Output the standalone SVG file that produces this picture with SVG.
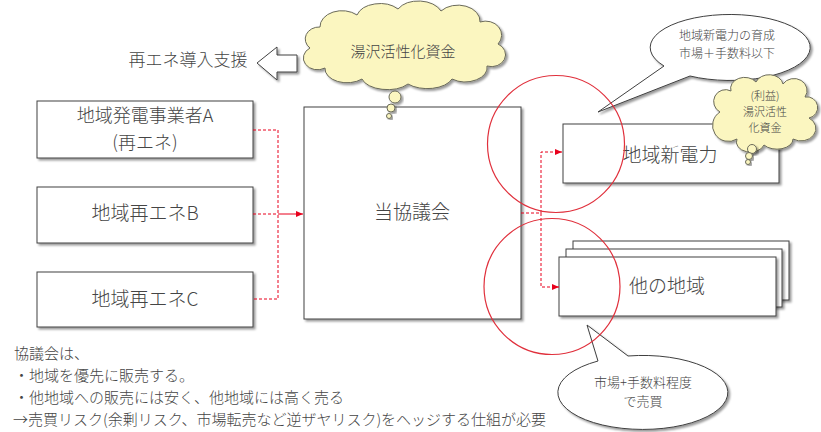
<svg xmlns="http://www.w3.org/2000/svg" width="821" height="432" viewBox="0 0 821 432">
<defs>
<style>
.t{font-family:"Noto Sans CJK JP","Noto Sans",sans-serif;fill:#454545;font-weight:300;}
.box{fill:#fff;stroke:#404040;stroke-width:1;filter:url(#sh);}
.cloud{fill:#fbf6c0;stroke:#6a6a5a;stroke-width:1;filter:url(#sh);}
.bub{fill:#fff;stroke:#404040;stroke-width:1;filter:url(#sh);}
.red{fill:none;stroke:#e8001c;stroke-width:1;}
.dash{stroke-dasharray:3 2;}
.ring{fill:none;stroke:#e0303c;stroke-width:1.2;}
</style>
<filter id="sh" x="-10%" y="-10%" width="130%" height="130%">
<feDropShadow dx="2" dy="2" stdDeviation="1.2" flood-color="#000" flood-opacity="0.4"/>
</filter>
<marker id="ah" markerWidth="8" markerHeight="8" refX="7" refY="4" orient="auto" markerUnits="userSpaceOnUse">
<path d="M0,1 L7,4 L0,7 Z" fill="#e8001c"/>
</marker>
</defs>
<rect width="821" height="432" fill="#fff"/>

<g id="support">
<polygon class="box" points="257,63 277,47 277,55 297,55 297,72 277,72 277,80"/>
<text class="t" x="188" y="66" font-size="17" text-anchor="middle">再エネ導入支援</text>
</g>

<g id="nodeA">
<rect class="box" x="37" y="101" width="216" height="57"/>
<text class="t" x="145" y="122" font-size="18" text-anchor="middle">地域発電事業者A</text>
<text class="t" x="145" y="149" font-size="18" text-anchor="middle">(再エネ)</text>
</g>
<g id="nodeB">
<rect class="box" x="37" y="187" width="216" height="56"/>
<text class="t" x="145" y="220" font-size="19" text-anchor="middle">地域再エネB</text>
</g>
<g id="nodeC">
<rect class="box" x="37" y="272" width="216" height="55"/>
<text class="t" x="145" y="306" font-size="19" text-anchor="middle">地域再エネC</text>
</g>

<g id="council">
<rect class="box" x="304" y="107" width="217" height="212"/>
<text class="t" x="412" y="219" font-size="19" text-anchor="middle">当協議会</text>
</g>

<g id="newpower">
<rect class="box" x="563" y="124" width="216" height="59"/>
<text class="t" x="670" y="162" font-size="19" text-anchor="middle">地域新電力</text>
</g>

<g id="others">
<rect class="box" x="573" y="241" width="216" height="59"/>
<rect class="box" x="566" y="249" width="216" height="58"/>
<rect class="box" x="559" y="257" width="217" height="59"/>
<text class="t" x="667" y="293" font-size="19" text-anchor="middle">他の地域</text>
</g>

<g id="connectors">
<path class="red dash" d="M253,130 H278 V299 H253 M253,214 H278"/>
<path class="red" d="M278,214 H303" marker-end="url(#ah)"/>
<path class="red dash" d="M521,213 H541 V152 H562" marker-end="url(#ah)"/>
<path class="red dash" d="M541,213 V287 H559" marker-end="url(#ah)"/>
</g>

<g id="cloud1">
<path class="cloud" d="M310,48 A14,12 0 0 1 320,27 A22,16 0 0 1 357,15 A24,16 0 0 1 398,9 A24,16 0 0 1 441,11 A22,16 0 0 1 480,22 A16,14 0 0 1 498,44 A14,12 0 0 1 487,66 A22,14 0 0 1 452,79 A26,14 0 0 1 408,84 A26,14 0 0 1 362,79 A22,14 0 0 1 325,68 A12,10 0 0 1 310,48 Z"/>
<circle class="cloud" cx="395" cy="97" r="6"/>
<circle class="cloud" cx="391" cy="108" r="4"/>
<circle class="cloud" cx="389" cy="116" r="2.5"/>
<text class="t" x="403" y="57" font-size="15" text-anchor="middle">湯沢活性化資金</text>
</g>

<g id="bubble1">
<path class="bub" d="M664,66 L598,112 L690,76 A80,33 0 1 0 664,66 Z"/>
<text class="t" x="727" y="40" font-size="12" text-anchor="middle">地域新電力の育成</text>
<text class="t" x="727" y="58" font-size="12" text-anchor="middle">市場＋手数料以下</text>
</g>

<g id="cloud2">
<path class="cloud" d="M720,112 A10,10 0 0 1 731,91 A14,11 0 0 1 756,82 A14,11 0 0 1 783,84 A12,11 0 0 1 805,97 A10,10 0 0 1 809,118 A12,10 0 0 1 793,139 A16,10 0 0 1 764,145 A14,10 0 0 1 737,139 A10,10 0 0 1 720,112 Z"/>
<circle class="cloud" cx="752" cy="149" r="4.5"/>
<circle class="cloud" cx="749" cy="156" r="3.5"/>
<circle class="cloud" cx="748" cy="162" r="2.5"/>
<text class="t" x="765" y="100" font-size="11" text-anchor="middle">(利益)</text>
<text class="t" x="765" y="116" font-size="11" text-anchor="middle">湯沢活性</text>
<text class="t" x="765" y="132" font-size="11" text-anchor="middle">化資金</text>
</g>

<g id="bubble2">
<path class="bub" d="M598,361 L587,325 L628,356 A85,37 0 1 1 598,361 Z"/>
<text class="t" x="643" y="387" font-size="13" text-anchor="middle">市場+手数料程度</text>
<text class="t" x="643" y="406" font-size="13" text-anchor="middle">で売買</text>
</g>

<g id="rings">
<circle class="ring" cx="556" cy="144" r="68.5"/>
<circle class="ring" cx="552" cy="286.5" r="68"/>
</g>

<g id="note">
<text class="t" x="14" y="359" font-size="15">協議会は、</text>
<text class="t" x="14" y="381" font-size="15">・地域を優先に販売する。</text>
<text class="t" x="14" y="403" font-size="15">・他地域への販売には安く、他地域には高く売る</text>
<text class="t" x="13" y="425" font-size="15">→売買リスク(余剰リスク、市場転売など逆ザヤリスク)をヘッジする仕組が必要</text>
</g>
</svg>
